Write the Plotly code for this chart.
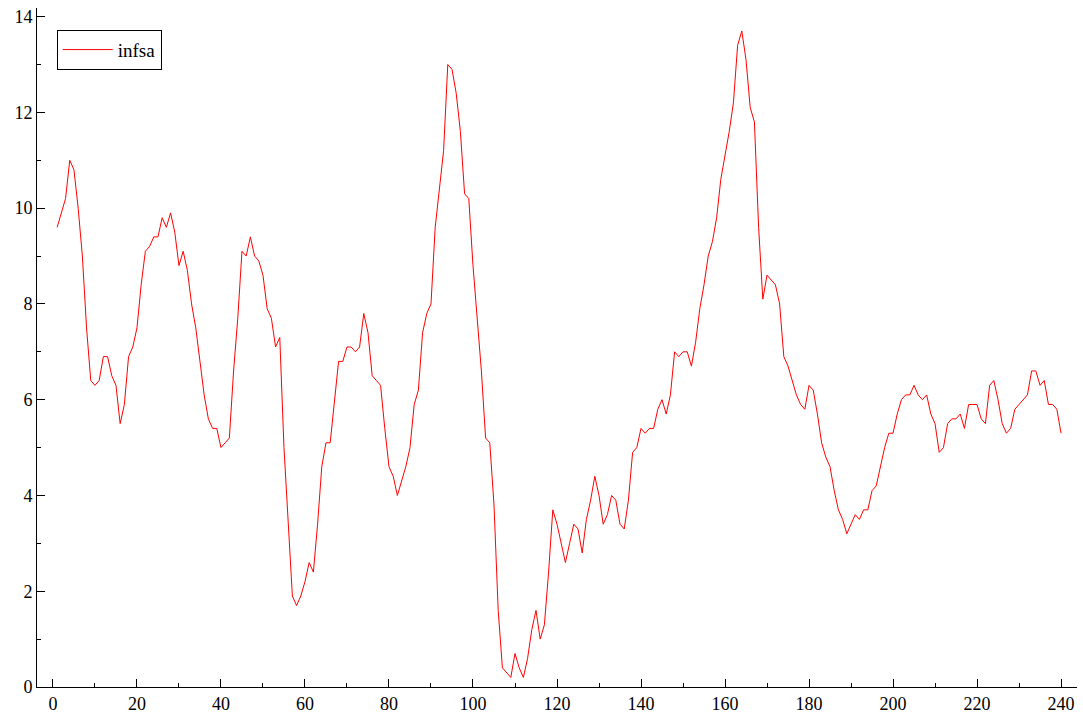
import plotly.graph_objects as go

periods = list(range(1, 241))
infsa = [
    9.6, 9.9, 10.2, 11.0, 10.8, 10.0, 9.0, 7.5, 6.4, 6.3,
    6.4, 6.9, 6.9, 6.5, 6.3, 5.5, 5.9, 6.9, 7.1, 7.5,
    8.4, 9.1, 9.2, 9.4, 9.4, 9.8, 9.6, 9.9, 9.5, 8.8,
    9.1, 8.7, 8.0, 7.5, 6.8, 6.1, 5.6, 5.4, 5.4, 5.0,
    5.1, 5.2, 6.6, 7.7, 9.1, 9.0, 9.4, 9.0, 8.9, 8.6,
    7.9, 7.7, 7.1, 7.3, 5.0, 3.3, 1.9, 1.7, 1.9, 2.2,
    2.6, 2.4, 3.4, 4.6, 5.1, 5.1, 5.9, 6.8, 6.8, 7.1,
    7.1, 7.0, 7.1, 7.8, 7.4, 6.5, 6.4, 6.3, 5.4, 4.6,
    4.4, 4.0, 4.3, 4.6, 5.0, 5.9, 6.2, 7.4, 7.8, 8.0,
    9.6, 10.4, 11.2, 13.0, 12.9, 12.4, 11.6, 10.3, 10.2, 8.8,
    7.7, 6.6, 5.2, 5.1, 3.8, 1.6, 0.4, 0.3, 0.2, 0.7,
    0.4, 0.2, 0.6, 1.2, 1.6, 1.0, 1.3, 2.4, 3.7, 3.4,
    3.0, 2.6, 3.0, 3.4, 3.3, 2.8, 3.5, 3.9, 4.4, 4.0,
    3.4, 3.6, 4.0, 3.9, 3.4, 3.3, 3.9, 4.9, 5.0, 5.4,
    5.3, 5.4, 5.4, 5.8, 6.0, 5.7, 6.1, 7.0, 6.9, 7.0,
    7.0, 6.7, 7.2, 7.9, 8.4, 9.0, 9.3, 9.8, 10.6, 11.1,
    11.6, 12.2, 13.4, 13.7, 13.1, 12.1, 11.8, 9.6, 8.1, 8.6,
    8.5, 8.4, 8.0, 6.9, 6.7, 6.4, 6.1, 5.9, 5.8, 6.3,
    6.2, 5.7, 5.1, 4.8, 4.6, 4.1, 3.7, 3.5, 3.2, 3.4,
    3.6, 3.5, 3.7, 3.7, 4.1, 4.2, 4.6, 5.0, 5.3, 5.3,
    5.7, 6.0, 6.1, 6.1, 6.3, 6.1, 6.0, 6.1, 5.7, 5.5,
    4.9, 5.0, 5.5, 5.6, 5.6, 5.7, 5.4, 5.9, 5.9, 5.9,
    5.6, 5.5, 6.3, 6.4, 6.0, 5.5, 5.3, 5.4, 5.8, 5.9,
    6.0, 6.1, 6.6, 6.6, 6.3, 6.4, 5.9, 5.9, 5.8, 5.3,
]
series_name = "infsa"

fig = go.Figure()
fig.add_trace(go.Scatter(x=periods, y=infsa, mode="lines", name=series_name,
                         line=dict(color="#ff0000", width=1)))

font = dict(family="Liberation Serif, Times New Roman, serif", size=18, color="black")
fig.update_layout(
    width=1083, height=715,
    margin=dict(l=37, r=6, t=8, b=28, autoexpand=False),
    paper_bgcolor="white", plot_bgcolor="white",
    font=font,
    showlegend=True,
    legend=dict(x=0.019, y=0.968, xanchor="left", yanchor="top",
                bordercolor="black", borderwidth=1, bgcolor="white",
                font=dict(family=font["family"], size=19, color="black"),
                tracegroupgap=0, itemwidth=50),
)
fig.update_xaxes(range=[-3.8, 243.8], showgrid=False, zeroline=False, automargin=False,
                 showline=True, linecolor="black", linewidth=1,
                 ticks="inside", ticklen=8, tickcolor="black", dtick=20, tick0=0,
                 minor=dict(dtick=10, ticks="inside", ticklen=4, tickcolor="black"))
fig.update_yaxes(range=[0, 14.18], showgrid=False, zeroline=False, automargin=False,
                 showline=True, linecolor="black", linewidth=1,
                 ticks="inside", ticklen=8, tickcolor="black", dtick=2, tick0=0,
                 minor=dict(dtick=1, ticks="inside", ticklen=4, tickcolor="black"))

fig.write_html("out.html", config={"displayModeBar": False},
               post_script="document.body.style.margin='0';document.body.style.padding='0';document.body.style.overflow='hidden';")
